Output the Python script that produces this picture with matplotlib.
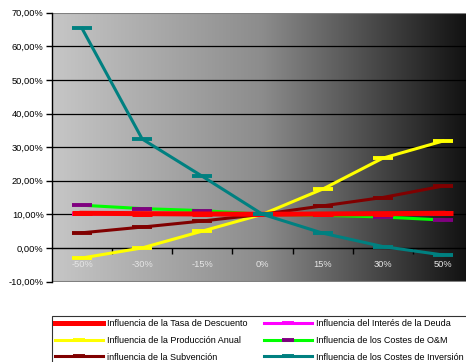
import numpy as np
import matplotlib
matplotlib.use('Agg')
import matplotlib.pyplot as plt
from matplotlib.colors import LinearSegmentedColormap
from matplotlib.ticker import FuncFormatter, FixedLocator

# Data (IRR in % for each sensitivity step)
categories = ['-50%', '-30%', '-15%', '0%', '15%', '30%', '50%']
tasaDescuento = [10.3, 10.2, 10.1, 10.0, 10.1, 10.2, 10.3]
interesDeuda = [10.2, 10.1, 10.05, 10.0, 10.0, 10.05, 10.1]
produccionAnual = [-3.0, 0.0, 5.0, 10.0, 17.5, 26.7, 31.8]
costesOM = [12.7, 11.7, 11.1, 10.0, 9.7, 9.2, 8.3]
subvencion = [4.5, 6.2, 8.0, 10.0, 12.5, 15.0, 18.4]
costesInversion = [65.3, 32.4, 21.3, 10.0, 4.4, 0.4, -2.1]

plt.rcParams['font.family'] = ['Liberation Sans', 'DejaVu Sans']

fig = plt.figure(figsize=(4.66, 3.62), dpi=100)
ax = fig.add_axes([52/466, 1 - 281.5/362, 421/466, (281.5 - 12.7)/362])

x = np.arange(len(categories))
ax.set_xlim(-0.5, len(categories) - 0.5)
ax.set_ylim(-10, 70)

# gradient background
cmap = LinearSegmentedColormap.from_list('bg', ['#c6c6c6', '#8c8c8c', '#0e0e0e'])
ax.imshow(np.linspace(0, 1, 256).reshape(1, -1), cmap=cmap, aspect='auto',
          extent=[-0.5, len(categories) - 0.5, -10, 70], zorder=0)

for yv in range(10, 70, 10):
    ax.axhline(yv, color='black', lw=0.9, zorder=1)
ax.axhline(70, color='#808080', lw=1.5, zorder=1)
ax.axhline(-10, color='#808080', lw=1.5, zorder=1)

ms = 14
mew = 2.8
ax.plot(x, interesDeuda, color='#FF00FF', lw=2.2, marker='_', ms=ms, mew=mew,
        label='Influencia del Interés de la Deuda', zorder=2)
ax.plot(x, produccionAnual, color='#FFFF00', lw=2.2, marker='_', ms=ms, mew=mew,
        label='Influencia de la Producción Anual', zorder=3)
ax.plot(x, costesOM, color='#00FF00', lw=2.2, marker='_', ms=ms, mew=mew,
        mec='#800080', mfc='#800080', label='Influencia de los Costes de O&M', zorder=4)
ax.plot(x, subvencion, color='#800000', lw=2.2, marker='_', ms=ms, mew=mew,
        label='influencia de la Subvención', zorder=5)
ax.plot(x, tasaDescuento, color='#FF0000', lw=3.6, marker='_', ms=ms, mew=3.6,
        label='Influencia de la Tasa de Descuento', zorder=6)
ax.plot(x, costesInversion, color='#008080', lw=2.2, marker='_', ms=ms, mew=mew,
        label='Influencia de los Costes de Inversión', zorder=7)

# axes styling
for s in ['top', 'right']:
    ax.spines[s].set_visible(False)
ax.spines['left'].set_color('black')
ax.spines['left'].set_linewidth(1.0)
ax.spines['bottom'].set_position(('data', 0))
ax.spines['bottom'].set_color('black')
ax.spines['bottom'].set_linewidth(1.0)
ax.spines['bottom'].set_zorder(1.5)

ax.set_yticks(range(-10, 71, 10))
ax.yaxis.set_major_formatter(FuncFormatter(lambda v, p: f"{v:.2f}%".replace('.', ',')))
ax.tick_params(axis='y', direction='out', length=4, width=1, labelsize=6.7, pad=2)

ax.set_xticks(x)
ax.set_xticklabels(categories)
ax.xaxis.set_minor_locator(FixedLocator(np.arange(0.5, len(categories) - 1, 1)))
ax.tick_params(axis='x', which='major', length=0, pad=9, labelsize=6.7, labelcolor='#e6e6e6')
ax.tick_params(axis='x', which='minor', direction='out', length=4, width=1)

# legend (row-wise order as in the original)
h, l = ax.get_legend_handles_labels()
lab = dict(zip(l, h))
order = ['Influencia de la Tasa de Descuento', 'Influencia de la Producción Anual',
         'influencia de la Subvención', 'Influencia del Interés de la Deuda',
         'Influencia de los Costes de O&M', 'Influencia de los Costes de Inversión']
leg = fig.legend([lab[k] for k in order], order, loc='upper left',
                 bbox_to_anchor=(52/466, 1 - 316/362), ncol=2, fontsize=6.5,
                 frameon=True, fancybox=False, edgecolor='black', borderpad=0.35,
                 handlelength=5.3, handletextpad=0.45, labelspacing=0.85,
                 columnspacing=1.8, numpoints=1, markerscale=0.6, borderaxespad=0)
leg.get_frame().set_linewidth(0.8)

fig.savefig('out.png', dpi=100, facecolor='white')
